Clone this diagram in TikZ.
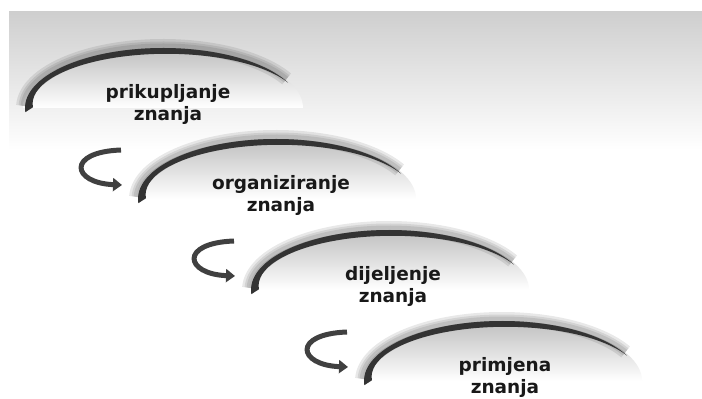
\documentclass[tikz,border=0pt]{standalone}
\usepackage{fontspec}
\setmainfont{DejaVu Sans}
\usetikzlibrary{arrows.meta, positioning, calc}

\begin{document}
\begin{tikzpicture}[
    x=1pt, y=1pt,
    stage/.style={font=\bfseries\fontsize{18.5}{22}\selectfont, align=center, text=black!90},
    turn/.style={-{Triangle[length=9pt, width=13pt]}, line width=5pt, draw=black!75},
    rim/.style={fill=black!80},
    body/.style={top color=black!25, bottom color=white},
]
% Background
\useasboundingbox (0,0) rectangle (702,399);
\fill[white] (0,0) rectangle (702,399);
\shade[top color=black!19, bottom color=white] (9,249) rectangle (702,387);

% Stage shapes (top left to bottom right)
\foreach \k in {0,...,3} {
    \coordinate (c\k) at (163+113*\k, 291-91*\k);
    \shade[body] ($(c\k)+(-140,0)$) arc[start angle=180, end angle=0, x radius=140, y radius=60] -- cycle;
    \foreach \w in {14,9,5} {
        \draw[black, line width=\w, opacity=0.09] ($(c\k)+(178:140 and 62)$) arc[start angle=178, end angle=28, x radius=140, y radius=62];
    }
    \fill[rim] ($(c\k)+(184:138 and 60)$) arc[start angle=184, end angle=25, x radius=138, y radius=60]
        -- ($(c\k)+(3.6,4.2)+(25:134 and 50)$) arc[start angle=25, end angle=184, x radius=134, y radius=50] -- cycle;
}

% Labels
\node[stage] (s0) at (168, 295) {prikupljanje\\znanja};
\node[stage] (s1) at (281, 204) {organiziranje\\znanja};
\node[stage] (s2) at (393, 113) {dijeljenje\\znanja};
\node[stage] (s3) at (505, 22) {primjena\\znanja};

% Turn arrows
\foreach \k in {1,2,3} {
    \coordinate (from\k) at (121+113*\k-113, 249-91*\k+91);
    \coordinate (to\k) at (122+113*\k-113, 214-91*\k+91);
    \draw[turn] (from\k) .. controls +(-55,-2) and +(-50,2) .. (to\k);
}
\end{tikzpicture}
\end{document}
